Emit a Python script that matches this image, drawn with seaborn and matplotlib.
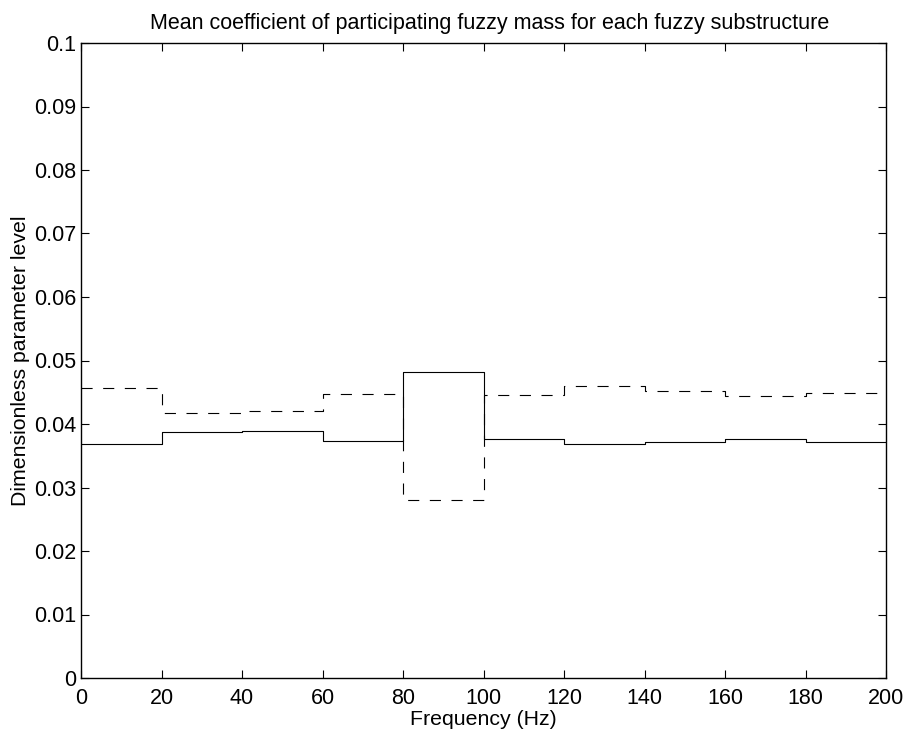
import matplotlib
matplotlib.use("Agg")
import matplotlib.pyplot as plt
import seaborn as sns
import numpy as np
import pandas as pd

# Data (20 Hz frequency bands, step plot)
band_edges = [0, 20, 40, 60, 80, 100, 120, 140, 160, 180, 200]
solid_values = [0.0369, 0.0387, 0.0389, 0.0374, 0.0482, 0.0376, 0.0368, 0.0371, 0.0376, 0.0371]
dashed_values = [0.0457, 0.0417, 0.0420, 0.0448, 0.0280, 0.0445, 0.0460, 0.0452, 0.0444, 0.0449]
x_ticks = [0, 20, 40, 60, 80, 100, 120, 140, 160, 180, 200]
y_ticks = [0, 0.01, 0.02, 0.03, 0.04, 0.05, 0.06, 0.07, 0.08, 0.09, 0.1]
y_tick_labels = ["0", "0.01", "0.02", "0.03", "0.04", "0.05", "0.06", "0.07", "0.08", "0.09", "0.1"]

sns.set_theme(style="white")
plt.rcParams["font.family"] = ["Liberation Sans", "DejaVu Sans"]

df_solid = pd.DataFrame({"f": band_edges, "v": solid_values + [solid_values[-1]]})
df_dash = pd.DataFrame({"f": band_edges, "v": dashed_values + [dashed_values[-1]]})

fig = plt.figure(figsize=(9.1, 7.35), dpi=100)
ax = fig.add_axes([81 / 910, 1 - 678 / 735, (886 - 81) / 910, (678 - 43) / 735])

sns.lineplot(data=df_solid, x="f", y="v", drawstyle="steps-post", estimator=None,
             color="black", linewidth=0.8, ax=ax)
sns.lineplot(data=df_dash, x="f", y="v", drawstyle="steps-post", estimator=None,
             color="black", linewidth=0.8, linestyle=(0, (10, 9.5)), ax=ax)

ax.set_xlim(0, 200)
ax.set_ylim(0, 0.1)
ax.set_xticks(x_ticks)
ax.set_xticklabels([str(t) for t in x_ticks])
ax.set_yticks(y_ticks)
ax.set_yticklabels(y_tick_labels)

for s in ax.spines.values():
    s.set_visible(True)
    s.set_color("black")
    s.set_linewidth(1.0)

ax.tick_params(axis="both", which="both", direction="in", length=5.5, width=0.8,
               colors="black", labelsize=15.5, top=True, right=True, bottom=True, left=True)
ax.tick_params(axis="x", pad=7)
ax.tick_params(axis="y", pad=3.5)

ax.set_xlabel("Frequency (Hz)", fontsize=15.3, color="black", labelpad=1)
ax.set_ylabel("Dimensionless parameter level", fontsize=15.3, color="black", labelpad=3)
ax.set_title("Mean coefficient of participating fuzzy mass for each fuzzy substructure",
             fontsize=15.5, color="black", pad=10, x=0.507)
ax.grid(False)

fig.savefig("out.png", dpi=100, facecolor="white")
